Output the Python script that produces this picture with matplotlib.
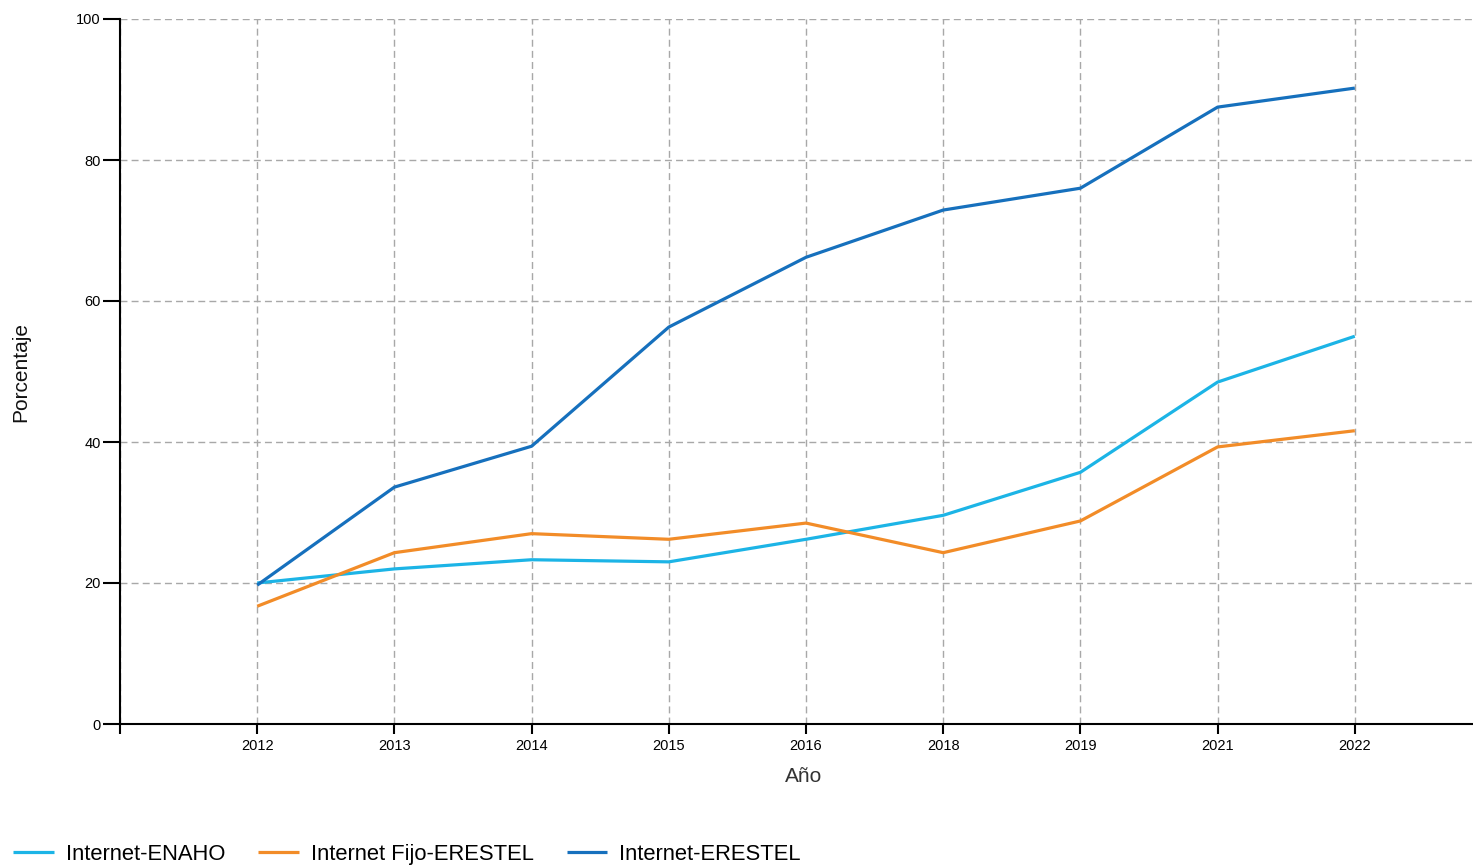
import matplotlib
matplotlib.use("Agg")
import matplotlib.pyplot as plt

plt.rcParams['font.family'] = ['Liberation Sans', 'DejaVu Sans']

years = ['2012', '2013', '2014', '2015', '2016', '2018', '2019', '2021', '2022']
enaho = [20.0, 22.0, 23.3, 23.0, 26.2, 29.6, 35.7, 48.5, 55.0]
fijo_erestel = [16.7, 24.3, 27.0, 26.2, 28.5, 24.3, 28.8, 39.3, 41.6]
erestel = [19.7, 33.6, 39.4, 56.3, 66.2, 72.9, 76.0, 87.5, 90.2]

series = [
    ('Internet-ENAHO', enaho, '#1cb4e6'),
    ('Internet Fijo-ERESTEL', fijo_erestel, '#f28c28'),
    ('Internet-ERESTEL', erestel, '#1670bd'),
]

W, H = 1473, 866
fig = plt.figure(figsize=(W / 100, H / 100), dpi=100)
ax = fig.add_axes([120 / W, 1 - 724 / H, 1 - 120 / W, (724 - 19) / H])

pos = list(range(1, len(years) + 1))
for name, vals, col in series:
    ax.plot(pos, vals, color=col, lw=2.3, label=name, solid_capstyle='butt')

ax.set_xlim(0, (W - 120) / 137.2)
ax.set_ylim(0, 100)
ax.set_xticks([0] + pos)
ax.set_xticklabels([''] + years, fontsize=10.5)
ax.set_yticks([0, 20, 40, 60, 80, 100])
ax.tick_params(axis='y', labelsize=10.5, length=12, width=1.5, pad=2)
ax.tick_params(axis='x', length=7, width=1.5, pad=4)

ax.grid(True, color='#a8a8a8', linestyle=(0, (5, 3)), lw=1)
ax.set_axisbelow(True)
for s in ['top', 'right']:
    ax.spines[s].set_visible(False)
for s in ['left', 'bottom']:
    ax.spines[s].set_linewidth(1.5)

ax.set_xlabel('Año', fontsize=15, color='#333333')
ax.xaxis.set_label_coords((804 - 120) / (W - 120), -(767 - 724) / (724 - 19))
ax.set_ylabel('Porcentaje', fontsize=15, color='#111111')
ax.yaxis.set_label_coords(-(120 - 30) / (W - 120), 0.5)

fig.legend(loc='lower left', bbox_to_anchor=(12 / W, 0.0), ncol=3, frameon=False,
           fontsize=15.8, handlelength=1.85, handletextpad=0.55, columnspacing=1.5,
           borderpad=0.05, borderaxespad=0)

fig.savefig('out.png', dpi=100)
